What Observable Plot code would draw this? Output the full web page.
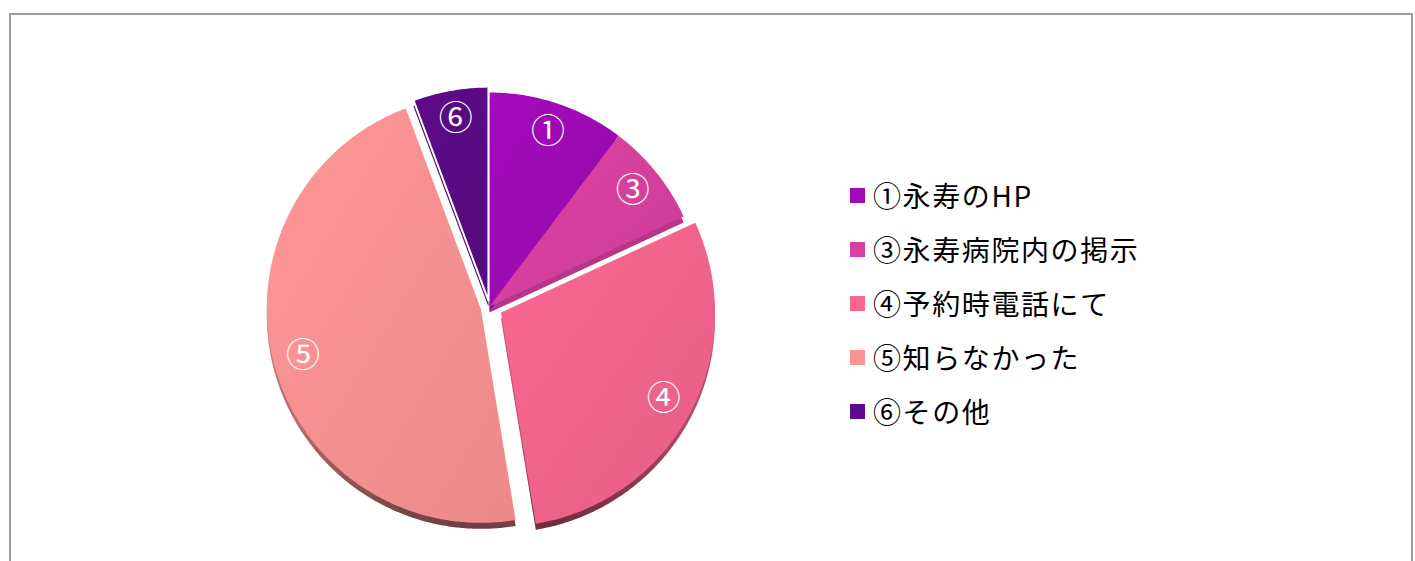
<!DOCTYPE html>
<html><head><meta charset="utf-8">
<script src="https://cdn.jsdelivr.net/npm/d3@7"></script>
<script src="https://cdn.jsdelivr.net/npm/@observablehq/plot@0.6"></script>
<style>
html,body{margin:0;padding:0;background:#fff;width:1415px;height:561px;overflow:hidden;font-family:"Noto Sans CJK JP","Noto Sans",sans-serif;}
#frame{position:absolute;left:9px;top:13px;width:1404px;height:700px;border:2px solid #9d9d9d;box-sizing:border-box;}
#chart{position:absolute;left:0;top:0;}
#legend{position:absolute;left:850px;top:168px;}
.row{display:flex;align-items:center;height:54px;}
.sw{width:15px;height:15px;margin-right:8px;}
.lt{font-size:28px;letter-spacing:1.6px;color:#000;line-height:1;font-weight:400;}
</style></head>
<body>
<div id="frame"></div>
<div id="chart"></div>
<div id="legend"></div>
<script>
// ---- data ----
const categories = ["①永寿のHP", "③永寿病院内の掲示", "④予約時電話にて", "⑤知らなかった", "⑥その他"];
const sliceLabels = ["①", "③", "④", "⑤", "⑥"];
const values = [10.3, 7.8, 29.3, 46.9, 5.7];
const colors = ["#9c0ab2", "#d63f9e", "#f0638c", "#f69090", "#5a0a84"];
const legendColors = ["#a00bb5", "#d93fa2", "#f56892", "#fa9490", "#5c0a8c"];

// ---- layout ----
const W = 1415, H = 561;
const R = 214, cx = 489, cy = 306;
const explode = [0, 0, 13, 9, 6];
const rimDrop = 6;

const arcs = d3.pie().sort(null).value(d => d)(values);
const faces = [], rims = [], labelPts = [];
arcs.forEach((p, i) => {
  const mid = (p.startAngle + p.endAngle) / 2;
  const ox = explode[i] / R * Math.sin(mid), oy = explode[i] / R * Math.cos(mid);
  const pts = [[ox, oy]];
  const n = Math.max(2, Math.ceil((p.endAngle - p.startAngle) / (Math.PI / 360)));
  for (let k = 0; k <= n; k++) {
    const a = p.startAngle + (p.endAngle - p.startAngle) * k / n;
    pts.push([ox + Math.sin(a), oy + Math.cos(a)]);
  }
  pts.push([ox, oy]);
  pts.forEach(([x, y]) => {
    faces.push({id: i, x, y, fill: `url(#face${i})`});
    rims.push({id: i, x, y: y - rimDrop / R, fill: `url(#rim${i})`});
  });
  labelPts.push({x: ox + 0.86 * Math.sin(mid), y: oy + 0.86 * Math.cos(mid), text: sliceLabels[i]});
});

const svg = Plot.plot({
  width: W, height: H, margin: 0,
  x: {domain: [-cx / R, (W - cx) / R], axis: null},
  y: {domain: [(cy - H) / R, cy / R], axis: null},
  color: {type: "identity"},
  marks: [
    Plot.line(rims, {x: "x", y: "y", z: "id", fill: "fill", stroke: "none", curve: "linear"}),
    Plot.line(faces, {x: "x", y: "y", z: "id", fill: "fill", stroke: "none", curve: "linear"}),
    Plot.line(faces.filter(d => d.id === 4), {x: "x", y: "y", stroke: "white", strokeWidth: 2, fill: "none", curve: "linear"}),
    Plot.text(labelPts, {x: "x", y: "y", text: "text", fill: "white", fontSize: 34, fontFamily: "Noto Sans CJK JP"})
  ]
});
svg.style.background = "transparent";

// gradients
const ns = "http://www.w3.org/2000/svg";
const defs = document.createElementNS(ns, "defs");
colors.forEach((c, i) => {
  const g = document.createElementNS(ns, "linearGradient");
  g.setAttribute("id", `face${i}`);
  g.setAttribute("x1", "0"); g.setAttribute("y1", "0"); g.setAttribute("x2", "1"); g.setAttribute("y2", "1");
  [[0, d3.color(c).brighter(0.12)], [1, d3.color(c).darker(0.12)]].forEach(([o, col]) => {
    const s = document.createElementNS(ns, "stop");
    s.setAttribute("offset", o); s.setAttribute("stop-color", col.formatHex());
    g.appendChild(s);
  });
  defs.appendChild(g);
  const r = document.createElementNS(ns, "linearGradient");
  r.setAttribute("id", `rim${i}`);
  r.setAttribute("gradientUnits", "userSpaceOnUse");
  r.setAttribute("x1", "0"); r.setAttribute("y1", "300"); r.setAttribute("x2", "0"); r.setAttribute("y2", "530");
  [[0, d3.color(c).darker(0.45)], [0.55, d3.color(c).darker(0.8)], [1, d3.color(c).darker(2.3)]].forEach(([o, col]) => {
    const s = document.createElementNS(ns, "stop");
    s.setAttribute("offset", o); s.setAttribute("stop-color", col.formatHex());
    r.appendChild(s);
  });
  defs.appendChild(r);
});
svg.insertBefore(defs, svg.firstChild);
document.getElementById("chart").appendChild(svg);

// legend
const leg = d3.select("#legend");
categories.forEach((c, i) => {
  const row = leg.append("div").attr("class", "row");
  row.append("div").attr("class", "sw").style("background", legendColors[i]);
  row.append("div").attr("class", "lt").text(c);
});
</script>
</body></html>
